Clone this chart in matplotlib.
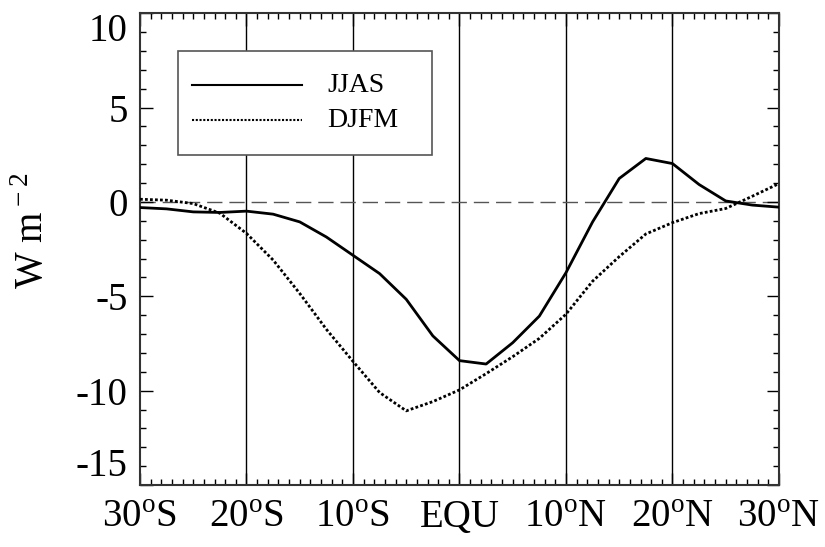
import numpy as np
import matplotlib
matplotlib.use("Agg")
import matplotlib.pyplot as plt
from matplotlib.ticker import MultipleLocator
from matplotlib.patches import Rectangle

# data (latitude every 2.5 deg)
lat = np.arange(-30, 30.1, 2.5)
jjas = [-0.30, -0.37, -0.53, -0.56, -0.49, -0.65, -1.06, -1.86, -2.83, -3.80,
        -5.16, -7.10, -8.41, -8.59, -7.46, -6.05, -3.75, -1.06, 1.24, 2.30,
        2.03, 0.92, 0.05, -0.17, -0.28]
djfm = [0.14, 0.09, -0.09, -0.60, -1.67, -3.08, -4.85, -6.75, -8.45, -10.10,
        -11.07, -10.58, -9.96, -9.10, -8.20, -7.23, -5.95, -4.20, -2.90, -1.70,
        -1.10, -0.62, -0.35, 0.30, 0.97]

xticks = [-30, -20, -10, 0, 10, 20, 30]
xlabels = [r"30$^{\rm o}$S", r"20$^{\rm o}$S", r"10$^{\rm o}$S", "EQU",
           r"10$^{\rm o}$N", r"20$^{\rm o}$N", r"30$^{\rm o}$N"]
yticks = [-15, -10, -5, 0, 5, 10]

plt.rcParams["font.family"] = "Liberation Serif"
plt.rcParams["mathtext.fontset"] = "custom"
plt.rcParams["mathtext.rm"] = "Liberation Serif"
plt.rcParams["axes.unicode_minus"] = False

fig = plt.figure(figsize=(8.25, 5.47), dpi=100)
ax = fig.add_axes([0.1697, 0.1133, 0.7745, 0.8627])

# vertical reference lines and zero line
for x in [-20, -10, 0, 10, 20]:
    ax.axvline(x, color="black", lw=1.0, zorder=1)
ax.axhline(0, color="#555555", lw=1.0, linestyle=(0, (11, 5)), zorder=1)

ax.plot(lat, jjas, color="black", lw=2.0, zorder=3)
ax.plot(lat, djfm, color="black", lw=2.0, linestyle=(0, (1, 0.8)), zorder=3)

ax.set_xlim(-30, 30)
ax.set_ylim(-15, 10)
ax.set_xticks(xticks)
ax.set_xticklabels(xlabels, fontsize=28)
ax.set_yticks(yticks)
ax.set_yticklabels([str(v) for v in yticks], fontsize=28)
# keep the end labels inside the axis height, as in the original
ylabs = ax.get_yticklabels()
ylabs[0].set_va("bottom")
ylabs[-1].set_va("top")
ax.xaxis.set_minor_locator(MultipleLocator(1))
ax.yaxis.set_minor_locator(MultipleLocator(1))
ax.tick_params(which="both", direction="in", top=True, right=True, width=1)
ax.tick_params(which="major", length=9)
ax.tick_params(which="minor", length=4.3)
ax.tick_params(axis="x", which="major", pad=10)
ax.tick_params(axis="y", which="major", pad=9)
for s in ax.spines.values():
    s.set_linewidth(1.5)
    s.set_color("#333333")

ax.set_ylabel(r"W m$^{\rm -2}$", fontsize=28)
ax.yaxis.set_label_coords(-0.138, 0.54)

# legend box
ax.add_patch(Rectangle((0.06, 0.699), 0.3965, 0.2205, transform=ax.transAxes,
                       facecolor="white", edgecolor="#555555", lw=1.2, zorder=5))
ax.plot([0.081, 0.253], [0.847, 0.847], transform=ax.transAxes,
        color="black", lw=1.5, zorder=6)
ax.plot([0.081, 0.253], [0.773, 0.773], transform=ax.transAxes,
        color="black", lw=1.5, linestyle=(0, (1, 0.8)), zorder=6)
ax.text(0.293, 0.847, "JJAS", transform=ax.transAxes, fontsize=20,
        va="center", ha="left", zorder=6)
ax.text(0.293, 0.773, "DJFM", transform=ax.transAxes, fontsize=20,
        va="center", ha="left", zorder=6)

plt.savefig("out.png", dpi=100)
